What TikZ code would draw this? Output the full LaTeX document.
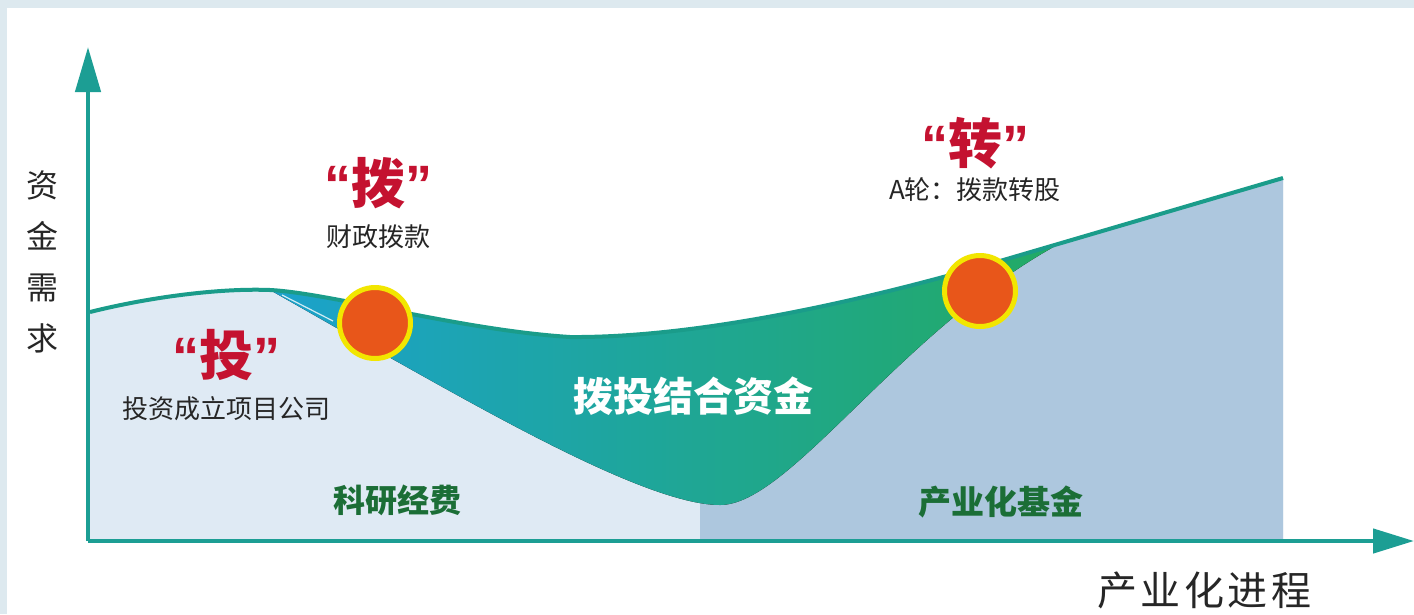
\documentclass[tikz,border=0pt]{standalone}
\usepackage{fontspec}
\newfontfamily\cjk{Noto Sans CJK SC}
\newfontfamily\qf{Liberation Sans}
\usetikzlibrary{arrows.meta}
\definecolor{bgband}{HTML}{DDE9EF}
\definecolor{axisc}{HTML}{1C9E94}
\definecolor{curvec}{HTML}{1A9C8A}
\definecolor{lightreg}{HTML}{DFEAF4}
\definecolor{darkreg}{HTML}{ADC7DE}
\definecolor{gblue}{HTML}{1BA2CC}
\definecolor{gteal}{HTML}{19A898}
\definecolor{ggreen}{HTML}{22AA64}
\definecolor{redq}{HTML}{C41230}
\definecolor{dgreen}{HTML}{1B6E36}
\definecolor{txt}{HTML}{262626}
\definecolor{ringy}{HTML}{F2E600}
\definecolor{orangec}{HTML}{E8561A}
\tikzset{
  axisline/.style={draw=axisc, line width=4.5pt},
  curveline/.style={draw=curvec, line width=4pt, line join=round},
  bigq/.style={inner sep=0pt, text=redq, font=\cjk\bfseries\fontsize{54}{60}\selectfont},
  subtxt/.style={inner sep=0pt, text=txt, font=\cjk\fontsize{26}{30}\selectfont},
  greentxt/.style={inner sep=0pt, text=dgreen, font=\cjk\bfseries\fontsize{32}{36}\selectfont},
  marker/.style={circle, fill=orangec, draw=ringy, line width=5pt, minimum size=71pt, inner sep=0pt}
}
\begin{document}
\begin{tikzpicture}[x=1pt,y=-1pt]
\useasboundingbox (0,0) rectangle (1414,614);
\fill[bgband] (0,0) rectangle (1414,614);
\fill[white] (7,8) rectangle (1414,614);

% region under the lower boundary
\def\lowerregion{(90,539) -- (90,312) .. controls (150,297) and (220,288) .. (270,290)
  -- (335,327) .. controls (450,390) and (640,505) .. (720,505)
  .. controls (790,505) and (900,330) .. (1060,243.4) -- (1283,178) -- (1283,539) -- cycle}
\fill[lightreg] \lowerregion;
\begin{scope}
  \clip (700,0) rectangle (1300,545);
  \fill[darkreg] \lowerregion;
\end{scope}

% green band
\fill[left color=gblue, middle color=gteal, right color=ggreen]
  (270,290) .. controls (330,293) and (460,330) .. (570,337)
  .. controls (690,338) and (850,305) .. (1000,261) -- (1060,243.4)
  .. controls (900,330) and (790,505) .. (720,505)
  .. controls (640,505) and (450,390) .. (335,327) -- cycle;
\draw[white, line width=1.2pt, opacity=0.8] (282,295) -- (333,321);

% top curve
\draw[curveline] (90,312) .. controls (150,297) and (220,288) .. (270,290)
  .. controls (330,293) and (460,330) .. (570,337)
  .. controls (690,338) and (850,305) .. (1000,261) -- (1283,178);

% axes
\coordinate (o) at (88,541);
\coordinate (ytip) at (88,47);
\coordinate (xtip) at (1414,541);
\draw[axisline, -{Triangle[length=45pt,width=25pt]}] (o) -- (ytip);
\draw[axisline, -{Triangle[length=41pt,width=24pt]}] (o) -- (xtip);

% markers
\node[marker] (m1) at (375,323) {};
\node[marker] (m2) at (980,291) {};

% texts
\node[inner sep=0pt, text=txt, align=center, font=\cjk\fontsize{32}{51}\selectfont] (ylab) at (42,262) {资\\金\\需\\求};
\node[inner sep=0pt, text=txt, anchor=base west, font=\cjk\fontsize{40}{44}\selectfont] (xlab) at (1097,605) {产\hspace{3.5pt}业\hspace{3.5pt}化\hspace{3.5pt}进\hspace{3.5pt}程};

\node[bigq] (q1) at (378,183) {{\qf\bfseries “}拨{\qf\bfseries ”}};
\node[subtxt] (t1) at (378,237) {财政拨款};
\node[bigq] (q2) at (226,355) {{\qf\bfseries “}投{\qf\bfseries ”}};
\node[subtxt] (t2) at (226,409) {投资成立项目公司};
\node[bigq] (q3) at (975,143) {{\qf\bfseries “}转{\qf\bfseries ”}};
\node[subtxt] (t3) at (975,190) {A轮：拨款转股};

\node[greentxt] (g1) at (397,500) {科研经费};
\node[greentxt, font=\cjk\bfseries\fontsize{33}{36}\selectfont] (g2) at (1001,502) {产业化基金};
\node[inner sep=0pt, text=white, font=\cjk\bfseries\fontsize{40}{44}\selectfont] (g3) at (693,396) {拨投结合资金};
\end{tikzpicture}
\end{document}
